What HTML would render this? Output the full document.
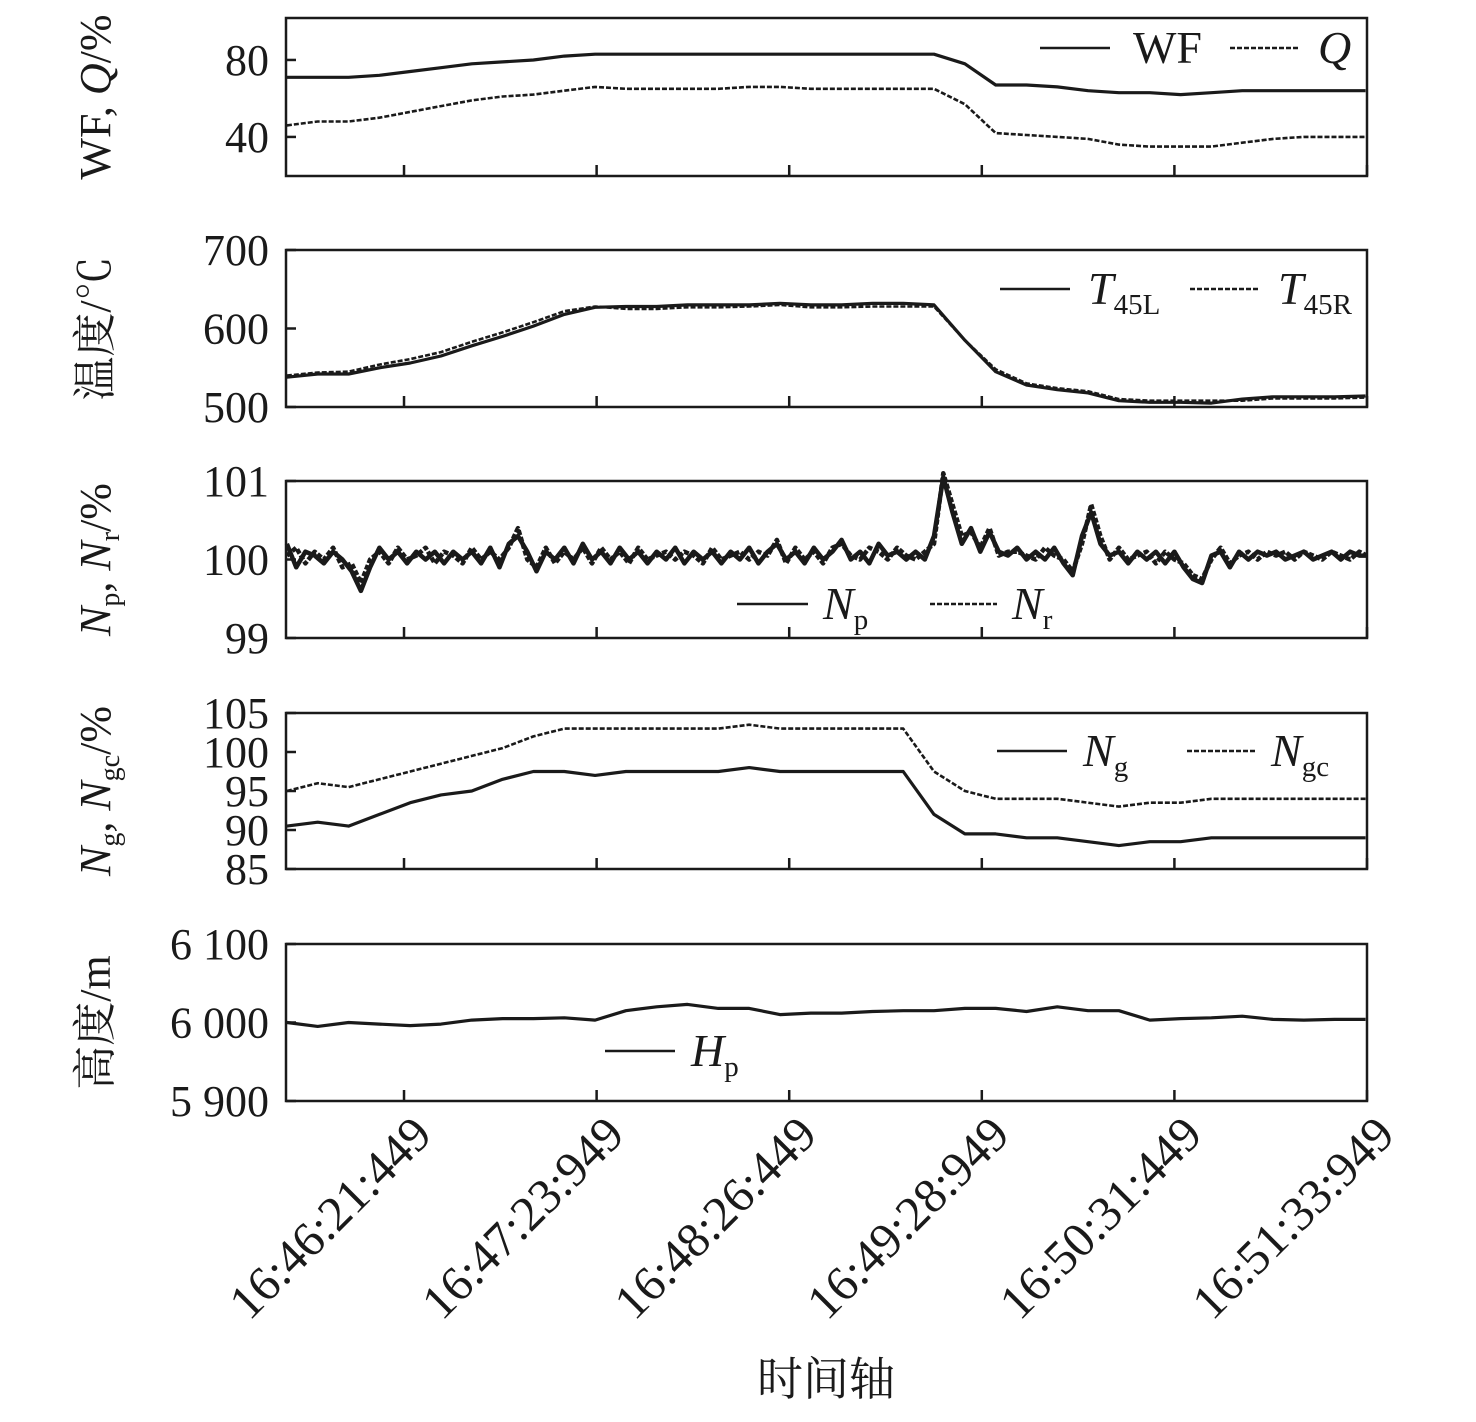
<!DOCTYPE html>
<html><head><meta charset="utf-8"><style>
html,body{margin:0;padding:0;background:#fff;}
svg{display:block;}
text{font-family:"Liberation Serif","Noto Serif CJK SC",serif;fill:#1a1a1a;}
</style></head><body>
<svg id="chart" width="1476" height="1422" viewBox="0 0 1476 1422" xmlns="http://www.w3.org/2000/svg"></svg>
<script>
// time in seconds relative to 16:46:21.449
const times = [-38,-28,-18,-8,2,12,22,32,42,52,62,72,82,92,102,112,122,132,142,152,162,172,182,192,202,212,222,232,242,252,262,272,282,292,302,312];
const xTickLabels = ["16:46:21:449","16:47:23:949","16:48:26:449","16:49:28:949","16:50:31:449","16:51:33:949"];
const xTickTimes = [0,62.5,125,187.5,250,312.5];
const wf = [71,71,71,72,74,76,78,79,80,82,83,83,83,83,83,83,83,83,83,83,83,83,78,67,67,66,64,63,63,62,63,64,64,64,64,64];
const q  = [46,48,48,50,53,56,59,61,62,64,66,65,65,65,65,66,66,65,65,65,65,65,57,42,41,40,39,36,35,35,35,37,39,40,40,40];
const t45L = [538,542,542,550,556,565,578,590,603,618,627,628,628,630,630,630,632,630,630,632,632,630,585,545,528,522,518,508,506,506,505,510,513,513,513,514];
const t45R = [540,544,545,554,561,570,583,595,608,622,628,625,625,627,627,628,630,627,627,628,628,628,585,548,530,524,520,510,508,508,508,508,511,511,511,512];
const ng  = [90.5,91,90.5,92,93.5,94.5,95,96.5,97.5,97.5,97,97.5,97.5,97.5,97.5,98,97.5,97.5,97.5,97.5,97.5,92,89.5,89.5,89,89,88.5,88,88.5,88.5,89,89,89,89,89,89];
const ngc = [95,96,95.5,96.5,97.5,98.5,99.5,100.5,102,103,103,103,103,103,103,103.5,103,103,103,103,103,97.5,95,94,94,94,93.5,93,93.5,93.5,94,94,94,94,94,94];
const hp = [6000,5995,6000,5998,5996,5998,6003,6005,6005,6006,6003,6015,6020,6023,6018,6018,6010,6012,6012,6014,6015,6015,6018,6018,6014,6020,6015,6015,6003,6005,6006,6008,6004,6003,6004,6004];
// fast-sampled rotor speeds, 3 s step starting at -38 s
const fastStart = -38;
const fastStep = 3;
const np = [100.2,99.9,100.1,100.05,99.95,100.1,100.0,99.85,99.6,99.9,100.15,100.0,100.1,99.95,100.1,100.0,100.1,99.95,100.1,100.0,100.1,99.95,100.15,99.9,100.2,100.3,100.1,99.85,100.1,100.0,100.15,99.95,100.2,100.0,100.1,99.95,100.15,100.0,100.1,99.95,100.1,100.0,100.15,99.95,100.1,100.0,100.1,99.95,100.1,100.0,100.15,99.95,100.1,100.2,100.0,100.1,99.95,100.15,100.0,100.1,100.25,100.0,100.1,99.95,100.2,100.05,100.1,100.0,100.1,100.0,100.3,101.05,100.6,100.2,100.4,100.1,100.35,100.1,100.05,100.15,100.0,100.1,100.0,100.15,99.95,99.8,100.3,100.6,100.2,100.05,100.1,99.95,100.1,100.0,100.1,99.95,100.1,99.9,99.75,99.7,100.05,100.1,99.9,100.1,100.0,100.1,100.05,100.1,100.0,100.05,100.1,100.0,100.05,100.1,100.0,100.1,100.05,100.05];
const nr = [100.05,100.15,99.95,100.1,100.0,100.15,99.9,99.95,99.7,100.0,100.1,99.95,100.15,100.0,100.05,100.15,99.95,100.1,100.05,99.95,100.15,100.0,100.1,100.0,100.15,100.4,100.0,99.9,100.15,99.95,100.1,100.0,100.15,99.95,100.15,100.0,100.1,99.95,100.15,100.0,100.05,100.1,100.0,100.1,100.05,99.95,100.15,100.0,100.05,100.1,100.0,100.1,100.05,100.25,99.95,100.15,100.0,100.1,99.95,100.15,100.2,100.05,100.0,100.15,100.1,100.0,100.15,100.05,100.0,100.1,100.2,101.1,100.7,100.3,100.35,100.15,100.4,100.05,100.1,100.1,100.05,100.0,100.15,100.05,100.0,99.85,100.2,100.7,100.3,100.0,100.15,100.0,100.05,100.1,99.95,100.1,100.0,99.95,99.8,99.75,100.0,100.15,99.95,100.05,100.1,100.0,100.1,100.05,100.1,100.0,100.1,100.05,100.0,100.1,100.05,100.0,100.1,100.05];

const NS="http://www.w3.org/2000/svg";
const svg=document.getElementById('chart');
const X0=286,X1=1367,T0=-38.3,T1=312.5;
function xs(t){return X0+(t-T0)/(T1-T0)*(X1-X0);}
function mk(tag,attrs,parent){const e=document.createElementNS(NS,tag);for(const k in attrs)e.setAttribute(k,attrs[k]);(parent||svg).appendChild(e);return e;}

const panels=[
 {top:18,bot:176,d0:19.7,d1:101.8,ticks:[40,80],tl:["40","80"],title:'WF, <tspan font-style="italic">Q</tspan>/%',name:'wf-q'},
 {top:250,bot:407,d0:500,d1:700,ticks:[500,600,700],tl:["500","600","700"],title:'温度/℃',name:'temperature'},
 {top:481,bot:638,d0:99,d1:101,ticks:[99,100,101],tl:["99","100","101"],title:'<tspan font-style="italic">N</tspan><tspan font-size="28" dy="9">p</tspan><tspan dy="-9">, </tspan><tspan font-style="italic">N</tspan><tspan font-size="28" dy="9">r</tspan><tspan dy="-9">/%</tspan>',name:'np-nr'},
 {top:713,bot:869,d0:85,d1:105,ticks:[85,90,95,100,105],tl:["85","90","95","100","105"],title:'<tspan font-style="italic">N</tspan><tspan font-size="28" dy="9">g</tspan><tspan dy="-9">, </tspan><tspan font-style="italic">N</tspan><tspan font-size="28" dy="9">gc</tspan><tspan dy="-9">/%</tspan>',name:'ng-ngc'},
 {top:944,bot:1101,d0:5900,d1:6100,ticks:[5900,6000,6100],tl:["5 900","6 000","6 100"],title:'高度/m',name:'altitude'}
];
function ysF(p){return v=>p.bot-(v-p.d0)/(p.d1-p.d0)*(p.bot-p.top);}

panels.forEach((p,pi)=>{
 const g=mk('g',{});
 
 
 const ys=ysF(p);
 const fr=mk('rect',{x:X0,y:p.top,width:X1-X0,height:p.bot-p.top,fill:'none',stroke:'#1a1a1a','stroke-width':2.5},g);
 
 
 p.ticks.forEach((v,i)=>{
  mk('line',{x1:X0,x2:X0+10,y1:ys(v),y2:ys(v),stroke:'#1a1a1a','stroke-width':2.5},g);
  const t=mk('text',{x:X0-17,y:ys(v)+15,'text-anchor':'end','font-size':44},g);
  t.textContent=p.tl[i];
  
  
 });
 xTickTimes.forEach(tt=>{
  mk('line',{x1:xs(tt),x2:xs(tt),y1:p.bot,y2:p.bot-11,stroke:'#1a1a1a','stroke-width':2.5},g);
 });
 const cy=(p.top+p.bot)/2;
 const yt=mk('text',{x:0,y:0,'text-anchor':'middle','font-size':44,transform:`translate(110,${cy}) rotate(-90)`},g);
 yt.innerHTML=p.title;
 
 
});

function line(vals,p,dash,w,name,tArr){
 const ys=ysF(p);
 let d='';
 vals.forEach((v,i)=>{const t=tArr?tArr[i]:fastStart+i*fastStep;const x=Math.min(xs(t),X1);d+=(i?'L':'M')+x.toFixed(1)+','+ys(v).toFixed(1);});
 const e=mk('path',{d:d,fill:'none',stroke:'#1a1a1a','stroke-width':w,'stroke-dasharray':dash||'none','stroke-linejoin':'round'});
 
 
}
line(wf,panels[0],null,3.2,'wf-line',times);
line(q,panels[0],'5,2',2.6,'q-line',times);
line(t45L,panels[1],null,3.2,'t45l-line',times);
line(t45R,panels[1],'5,2',2.6,'t45r-line',times);
line(nr,panels[2],'5,2',4.5,'nr-line',null);
line(np,panels[2],null,4.5,'np-line',null);
line(ng,panels[3],null,3.2,'ng-line',times);
line(ngc,panels[3],'5,2',2.6,'ngc-line',times);
line(hp,panels[4],null,3.2,'hp-line',times);

function legend(x1,x2,y,dash,tx,html,name){
 const g=mk('g',{});
 
 
 mk('line',{x1:x1,x2:x2,y1:y,y2:y,stroke:'#1a1a1a','stroke-width':2.5,'stroke-dasharray':dash||'none'},g);
 const t=mk('text',{x:tx,y:y+15,'font-size':46},g);
 t.innerHTML=html;
}
const sub=(a,b)=>`<tspan font-style="italic">${a}</tspan><tspan font-size="29" dy="10">${b}</tspan>`;
legend(1040,1110,48,null,1133,'WF','legend-wf');
legend(1230,1300,48,'5,2',1318,'<tspan font-style="italic">Q</tspan>','legend-q');
legend(1000,1070,289,null,1088,sub('T','45L'),'legend-t45l');
legend(1190,1260,289,'5,2',1278,sub('T','45R'),'legend-t45r');
legend(737,808,604,null,823,sub('N','p'),'legend-np');
legend(930,997,604,'5,2',1012,sub('N','r'),'legend-nr');
legend(997,1067,751,null,1083,sub('N','g'),'legend-ng');
legend(1187,1257,751,'5,2',1271,sub('N','gc'),'legend-ngc');
legend(605,675,1051,null,691,sub('H','p'),'legend-hp');

xTickTimes.forEach((tt,i)=>{
 const x=xs(tt);
 const t=mk('text',{x:0,y:0,'text-anchor':'end','font-size':49,transform:`translate(${x+30},${1137}) rotate(-45)`});
 t.textContent=xTickLabels[i];
 
 
});
const xt=mk('text',{x:826,y:1395,'text-anchor':'middle','font-size':46});
xt.textContent='时间轴';


</script>
</body></html>
